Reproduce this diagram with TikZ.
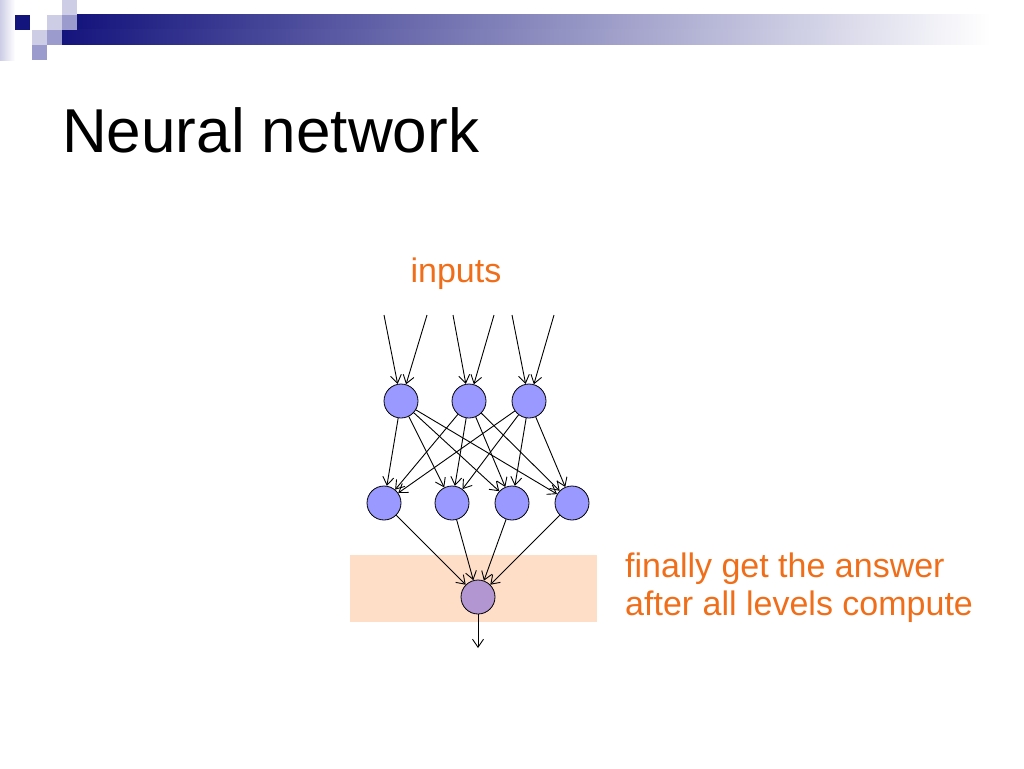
\documentclass[tikz,border=0pt]{standalone}
\usepackage{fontspec}
\setmainfont{Liberation Sans}
\usetikzlibrary{arrows.meta}
\definecolor{navy}{RGB}{20,20,125}
\definecolor{bargray}{RGB}{165,165,185}
\definecolor{lavlight}{RGB}{205,205,230}
\definecolor{lavmid}{RGB}{155,155,205}
\definecolor{unitblue}{RGB}{153,153,255}
\definecolor{unitpurple}{RGB}{178,150,210}
\definecolor{peach}{RGB}{255,222,200}
\definecolor{txtorange}{RGB}{240,110,25}
\tikzset{
  unit/.style={circle, draw=black, fill=unitblue, line width=0.8pt, minimum size=34pt, inner sep=0pt},
  outunit/.style={unit, fill=unitpurple},
  link/.style={line width=0.9pt, -{Straight Barb[length=8pt,width=11pt]}},
  label/.style={text=txtorange, font=\fontsize{34}{40}\selectfont, inner sep=0pt}
}
\begin{document}
\begin{tikzpicture}[x=1pt,y=-1pt]
    \useasboundingbox (0,0) rectangle (1024,768);
    % slide banner
    \fill[left color=lavlight, right color=white] (0,0) rectangle (15,60);
    \shade[left color=navy, middle color=bargray, right color=white] (77,15) rectangle (990,30);
    \shade[left color=navy, middle color=bargray, right color=white] (62,30) rectangle (990,45);
    \fill[navy] (15,15) rectangle (30,30);
    \fill[lavlight] (62,0) rectangle (77,15);
    \fill[lavlight] (47,15) rectangle (62,30);
    \fill[lavmid] (62,15) rectangle (77,30);
    \fill[lavlight] (32,30) rectangle (47,45);
    \fill[lavmid] (47,30) rectangle (62,45);
    \fill[lavmid] (32,45) rectangle (47,60);

    \node[anchor=base west, inner sep=0pt, font=\fontsize{62}{70}\selectfont] (title) at (62,152) {Neural network};

    % output band
    \fill[peach] (350,555) rectangle (597,622);

    \node[label, anchor=base] (inputs) at (456,282) {inputs};
    \node[label, anchor=base west] (ans1) at (625,577) {finally get the answer};
    \node[label, anchor=base west] (ans2) at (625,615) {after all levels compute};

    % units
    \node[unit] (h1) at (401,401) {};
    \node[unit] (h2) at (469,401) {};
    \node[unit] (h3) at (529,401) {};

    \node[unit] (m1) at (384,503) {};
    \node[unit] (m2) at (452,503) {};
    \node[unit] (m3) at (512,503) {};
    \node[unit] (m4) at (572,503) {};

    \node[outunit] (out) at (478,597) {};

    \coordinate (x1) at (384,315);
    \coordinate (x2) at (427,315);
    \coordinate (x3) at (453,315);
    \coordinate (x4) at (494,315);
    \coordinate (x5) at (512,315);
    \coordinate (x6) at (554,315);
    \coordinate (y) at (478,648);

    % inputs
    \draw[link] (x1) -- (h1);
    \draw[link] (x2) -- (h1);
    \draw[link] (x3) -- (h2);
    \draw[link] (x4) -- (h2);
    \draw[link] (x5) -- (h3);
    \draw[link] (x6) -- (h3);

    % first level
    \draw[link] (h1) -- (m1);
    \draw[link] (h1) -- (m2);
    \draw[link] (h1) -- (m3);
    \draw[link] (h1) -- (m4);
    \draw[link] (h2) -- (m1);
    \draw[link] (h2) -- (m2);
    \draw[link] (h2) -- (m3);
    \draw[link] (h2) -- (m4);
    \draw[link] (h3) -- (m1);
    \draw[link] (h3) -- (m2);
    \draw[link] (h3) -- (m3);
    \draw[link] (h3) -- (m4);

    % second level
    \draw[link] (m1) -- (out);
    \draw[link] (m2) -- (out);
    \draw[link] (m3) -- (out);
    \draw[link] (m4) -- (out);

    \draw[link] (out) -- (y);
\end{tikzpicture}
\end{document}
